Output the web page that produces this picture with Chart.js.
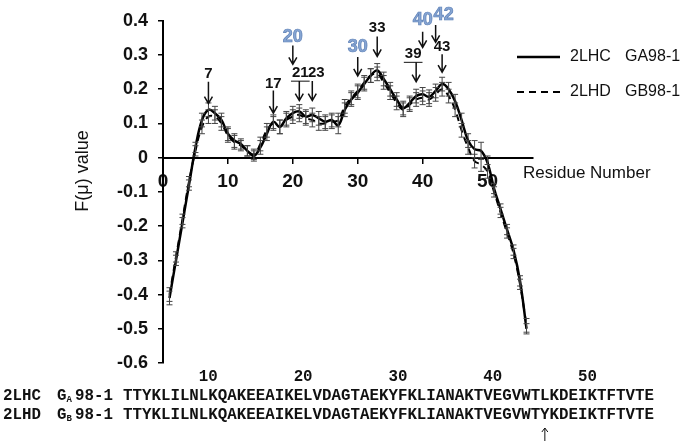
<!DOCTYPE html>
<html>
<head>
<meta charset="utf-8">
<script src="https://cdn.jsdelivr.net/npm/chart.js"></script>
<style>
  body { margin: 0; background: #fff; }
  #wrap { width: 685px; height: 442px; position: relative; }
</style>
</head>
<body>
<div id="wrap"><canvas id="myChart"></canvas></div>
<script>
  // residue numbers and F(mu) values
  const residues = [1, 2, 3, 4, 5, 6, 7, 8, 9, 10, 11, 12, 13, 14, 15, 16, 17, 18, 19, 20,
    21, 22, 23, 24, 25, 26, 27, 28, 29, 30, 31, 32, 33, 34, 35, 36, 37, 38, 39, 40,
    41, 42, 43, 44, 45, 46, 47, 48, 49, 50, 51, 52, 53, 54, 55, 56];
  const lhcValues = [-0.41, -0.30, -0.19, -0.08, 0.03, 0.11, 0.14, 0.13, 0.11, 0.07,
    0.05, 0.04, 0.02, 0.005, 0.03, 0.07, 0.105, 0.09, 0.115, 0.13,
    0.135, 0.12, 0.125, 0.115, 0.105, 0.11, 0.095, 0.14, 0.17, 0.19,
    0.215, 0.24, 0.255, 0.23, 0.2, 0.17, 0.145, 0.16, 0.18, 0.185,
    0.178, 0.195, 0.215, 0.2, 0.165, 0.11, 0.05, 0.025, 0.02, -0.015,
    -0.09, -0.15, -0.21, -0.27, -0.36, -0.50];
  const lhdValues = [-0.40, -0.29, -0.18, -0.07, 0.02, 0.09, 0.12, 0.12, 0.10, 0.065,
    0.045, 0.035, 0.02, 0.01, 0.04, 0.08, 0.10, 0.09, 0.11, 0.12,
    0.125, 0.115, 0.11, 0.10, 0.10, 0.105, 0.11, 0.15, 0.175, 0.195,
    0.22, 0.24, 0.245, 0.22, 0.19, 0.16, 0.14, 0.155, 0.17, 0.175,
    0.17, 0.185, 0.20, 0.18, 0.14, 0.08, 0.03, -0.01, -0.02, -0.04,
    -0.10, -0.16, -0.22, -0.28, -0.37, -0.49];
  const lhcErrors = [0.02, 0.015, 0.015, 0.015, 0.015, 0.02, 0.02, 0.02, 0.02, 0.02,
    0.02, 0.015, 0.015, 0.015, 0.02, 0.02, 0.02, 0.02, 0.02, 0.02,
    0.02, 0.02, 0.02, 0.02, 0.02, 0.02, 0.025, 0.02, 0.02, 0.02,
    0.02, 0.02, 0.02, 0.02, 0.02, 0.02, 0.02, 0.02, 0.02, 0.02,
    0.02, 0.02, 0.02, 0.02, 0.02, 0.02, 0.02, 0.025, 0.025, 0.02,
    0.015, 0.015, 0.015, 0.015, 0.015, 0.015];
  const lhdErrors = [0.02, 0.015, 0.015, 0.015, 0.015, 0.02, 0.02, 0.02, 0.02, 0.02,
    0.02, 0.015, 0.015, 0.015, 0.02, 0.02, 0.02, 0.02, 0.02, 0.02,
    0.02, 0.02, 0.02, 0.02, 0.02, 0.02, 0.02, 0.02, 0.02, 0.02,
    0.02, 0.02, 0.02, 0.02, 0.02, 0.02, 0.02, 0.02, 0.02, 0.02,
    0.02, 0.02, 0.02, 0.02, 0.02, 0.02, 0.02, 0.02, 0.02, 0.02,
    0.015, 0.015, 0.015, 0.015, 0.015, 0.02];
  const seriesNames = ['2LHC', '2LHD'];
  const seriesProteins = ['GA98-1', 'GB98-1'];
  const xTickValues = [0, 10, 20, 30, 40, 50];
  const seqNumbers = [10, 20, 30, 40, 50];
  const seqLHC = 'TTYKLILNLKQAKEEAIKELVDAGTAEKYFKLIANAKTVEGVWTLKDEIKTFTVTE';
  const seqLHD = 'TTYKLILNLKQAKEEAIKELVDAGTAEKYFKLIANAKTVEGVWTYKDEIKTFTVTE';
  const mutantResidue = 45;

  const BLUE = '#86a5d3';
  // arrows pointing at residues (heights in F(mu) units)
  const arrows = [
    { res: 7, text: '7', textY: 0.245, top: 0.222, bottom: 0.158 },
    { res: 17, text: '17', textY: 0.216, top: 0.196, bottom: 0.13 },
    { res: 21, text: '21', textY: 0.247, top: 0.224, bottom: 0.167, dx: 1, underline: true },
    { res: 23, text: '23', textY: 0.247, top: 0.224, bottom: 0.167, dx: 4 },
    { res: 33, text: '33', textY: 0.38, top: 0.354, bottom: 0.296 },
    { res: 39, text: '39', textY: 0.302, top: 0.279, bottom: 0.222, dx: -3, underline: true },
    { res: 43, text: '43', textY: 0.325, top: 0.302, bottom: 0.25 },
    { res: 20, text: '20', textY: 0.354, top: 0.328, bottom: 0.273, blue: true },
    { res: 30, text: '30', textY: 0.322, top: 0.294, bottom: 0.239, blue: true },
    { res: 40, text: '40', textY: 0.403, top: 0.368, bottom: 0.322, blue: true },
    { res: 42, text: '42', textY: 0.417, top: 0.388, bottom: 0.337, dx: 8, blue: true }
  ];

  const toPoints = (vals) => residues.map((r, i) => ({ x: r, y: vals[i] }));

  const errorBars = {
    id: 'errorBars',
    afterDatasetsDraw(chart) {
      const { ctx, scales: { x, y } } = chart;
      ctx.save();
      ctx.strokeStyle = '#444';
      ctx.lineWidth = 1;
      chart.data.datasets.forEach((ds) => {
        ds.data.forEach((p, j) => {
          const px = x.getPixelForValue(p.x);
          const top = y.getPixelForValue(p.y + ds.errors[j]);
          const bot = y.getPixelForValue(p.y - ds.errors[j]);
          ctx.beginPath();
          ctx.moveTo(px, top); ctx.lineTo(px, bot);
          ctx.moveTo(px - 3, top); ctx.lineTo(px + 3, top);
          ctx.moveTo(px - 3, bot); ctx.lineTo(px + 3, bot);
          ctx.stroke();
        });
      });
      ctx.restore();
    }
  };

  function drawArrow(ctx, x, y1, y2) {
    ctx.beginPath();
    ctx.moveTo(x, y1); ctx.lineTo(x, y2);
    ctx.moveTo(x - 4, y2 - 7); ctx.lineTo(x, y2); ctx.lineTo(x + 4, y2 - 7);
    ctx.stroke();
  }

  const extras = {
    id: 'extras',
    afterDraw(chart) {
      const { ctx, scales: { x, y } } = chart;
      ctx.save();
      ctx.fillStyle = '#111';
      ctx.strokeStyle = '#111';
      ctx.textBaseline = 'middle';

      // arrows + residue labels
      arrows.forEach((a) => {
        const px = x.getPixelForValue(a.res);
        ctx.lineWidth = 1.5;
        ctx.strokeStyle = '#111';
        drawArrow(ctx, px, y.getPixelForValue(a.top), y.getPixelForValue(a.bottom));
        const tx = px + (a.dx || 0);
        const ty = y.getPixelForValue(a.textY);
        ctx.textAlign = 'center';
        if (a.blue) {
          ctx.font = 'bold 18px "Liberation Sans", Arial, sans-serif';
          ctx.fillStyle = BLUE;
          ctx.fillText(a.text, tx, ty);
          ctx.lineWidth = 0.7;
          ctx.strokeStyle = '#5e80b6';
          ctx.strokeText(a.text, tx, ty);
        } else {
          ctx.font = 'bold 15px "Liberation Sans", Arial, sans-serif';
          ctx.fillStyle = '#111';
          ctx.fillText(a.text, tx, ty);
          if (a.underline) {
            const w = ctx.measureText(a.text).width;
            ctx.lineWidth = 1;
            ctx.beginPath();
            ctx.moveTo(tx - w / 2 - 1, ty + 8); ctx.lineTo(tx + w / 2 + 1, ty + 8);
            ctx.stroke();
          }
        }
      });

      // axis titles
      ctx.fillStyle = '#111';
      ctx.font = '18px "Liberation Sans", Arial, sans-serif';
      ctx.save();
      ctx.translate(83, 171);
      ctx.rotate(-Math.PI / 2);
      ctx.textAlign = 'center';
      ctx.fillText('F(μ) value', 0, 0);
      ctx.restore();
      ctx.font = '17px "Liberation Sans", Arial, sans-serif';
      ctx.textAlign = 'left';
      ctx.fillText('Residue Number', 523, 173);

      // legend
      ctx.font = '16px "Liberation Sans", Arial, sans-serif';
      chart.data.datasets.forEach((ds, i) => {
        const ly = 57 + i * 35;
        ctx.strokeStyle = '#000';
        ctx.lineWidth = ds.borderWidth;
        ctx.setLineDash(ds.borderDash || []);
        ctx.beginPath();
        ctx.moveTo(517, ly); ctx.lineTo(560, ly);
        ctx.stroke();
        ctx.setLineDash([]);
        ctx.fillText(seriesNames[i], 570, ly);
        ctx.fillText(seriesProteins[i], 625, ly);
      });

      // sequence alignment below the plot
      const mono = 'bold 15.8px "Liberation Mono", "Courier New", monospace';
      const seqX = 123;
      ctx.font = mono;
      const cw = ctx.measureText('M').width;
      ctx.textAlign = 'right';
      seqNumbers.forEach((n) => ctx.fillText(String(n), seqX + cw * n, 377));
      ctx.textAlign = 'left';
      const rows = [[seqLHC, 'A', 396], [seqLHD, 'B', 415]];
      rows.forEach(([seq, sub, ry], i) => {
        ctx.font = mono;
        ctx.fillText(seriesNames[i], 3, ry);
        ctx.fillText('G', 57, ry);
        ctx.fillText('98-1', 75, ry);
        ctx.fillText(seq, seqX, ry);
        ctx.font = 'bold 9px "Liberation Mono", monospace';
        ctx.fillText(sub, 57 + cw, ry + 4);
      });
      const ax = seqX + cw * (mutantResidue - 0.5);
      ctx.lineWidth = 1;
      ctx.strokeStyle = '#111';
      ctx.beginPath();
      ctx.moveTo(ax, 441); ctx.lineTo(ax, 428);
      ctx.moveTo(ax - 3, 432); ctx.lineTo(ax, 428); ctx.lineTo(ax + 3, 432);
      ctx.stroke();
      ctx.restore();
    }
  };

  const ctx = document.getElementById('myChart');
  new Chart(ctx, {
    type: 'line',
    data: {
      datasets: [{
        label: seriesNames[0] + '  ' + seriesProteins[0],
        data: toPoints(lhcValues),
        errors: lhcErrors,
        borderColor: '#000',
        borderWidth: 2.5,
        pointRadius: 0,
        tension: 0.4
      }, {
        label: seriesNames[1] + '  ' + seriesProteins[1],
        data: toPoints(lhdValues),
        errors: lhdErrors,
        borderColor: '#000',
        borderWidth: 2,
        borderDash: [7, 5],
        pointRadius: 0,
        tension: 0.4
      }]
    },
    options: {
      responsive: true,
      maintainAspectRatio: false,
      animation: false,
      layout: { padding: { left: 0, top: 17, right: 152, bottom: 79 } },
      plugins: { legend: { display: false }, tooltip: { enabled: false } },
      scales: {
        x: {
          type: 'linear',
          position: { y: 0 },
          min: 0,
          max: 57,
          afterBuildTicks: (s) => { s.ticks = xTickValues.map(v => ({ value: v })); },
          grid: { drawOnChartArea: false, color: '#000', tickLength: 5, lineWidth: 1.5 },
          border: { color: '#000', width: 2 },
          ticks: {
            color: '#111',
            padding: 8,
            maxRotation: 0,
            font: { family: '"Liberation Sans", Arial, sans-serif', size: 19, weight: 'bold' }
          }
        },
        y: {
          min: -0.6,
          max: 0.4,
          afterFit: (s) => { s.width = 163; },
          grid: { drawOnChartArea: false, color: '#000', tickLength: 5, lineWidth: 1.5 },
          border: { color: '#000', width: 2 },
          ticks: {
            stepSize: 0.1,
            color: '#111',
            padding: 10,
            callback: (v) => String(Math.round(v * 10) / 10),
            font: { family: '"Liberation Sans", Arial, sans-serif', size: 18, weight: 'bold' }
          }
        }
      }
    },
    plugins: [errorBars, extras]
  });
</script>
</body>
</html>
